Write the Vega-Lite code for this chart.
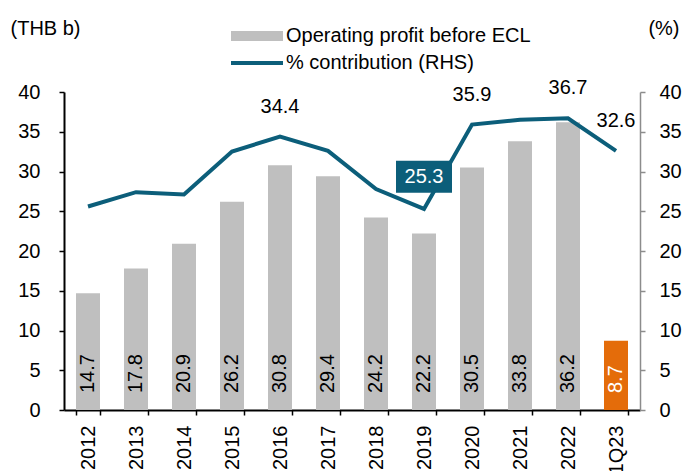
{
  "$schema": "https://vega.github.io/schema/vega-lite/v6.json",
  "width": 576,
  "height": 318,
  "autosize": {"type": "none"},
  "padding": {"left": 64, "top": 92, "right": 44, "bottom": 61},
  "background": "white",
  "config": {
    "font": "Liberation Sans",
    "view": {"stroke": null},
    "axis": {"labelFont": "Liberation Sans", "labelFontSize": 20, "labelColor": "black", "titleFont": "Liberation Sans", "titleFontSize": 20, "titleFontWeight": "normal", "titleColor": "black", "grid": false},
    "legend": {"labelFont": "Liberation Sans", "labelFontSize": 20, "labelColor": "black", "labelLimit": 400}
  },
  "data": {"values": [
    {"year": "2012", "profit": 14.7, "pct": 25.6},
    {"year": "2013", "profit": 17.8, "pct": 27.4},
    {"year": "2014", "profit": 20.9, "pct": 27.1},
    {"year": "2015", "profit": 26.2, "pct": 32.5},
    {"year": "2016", "profit": 30.8, "pct": 34.4},
    {"year": "2017", "profit": 29.4, "pct": 32.6},
    {"year": "2018", "profit": 24.2, "pct": 27.8},
    {"year": "2019", "profit": 22.2, "pct": 25.3},
    {"year": "2020", "profit": 30.5, "pct": 35.9},
    {"year": "2021", "profit": 33.8, "pct": 36.5},
    {"year": "2022", "profit": 36.2, "pct": 36.7},
    {"year": "1Q23", "profit": 8.7, "pct": 32.6}
  ]},
  "encoding": {
    "x": {
      "field": "year", "type": "ordinal", "sort": null,
      "scale": {"paddingInner": 0.5, "paddingOuter": 0.25},
      "axis": {"title": null, "labelAngle": -90, "labelAlign": "right", "labelBaseline": "middle", "labelPadding": 10, "domainColor": "black", "domainWidth": 2, "tickColor": "black", "tickWidth": 1.5, "tickSize": 5, "tickBand": "extent"}
    }
  },
  "layer": [
    {
      "encoding": {
        "y": {
          "field": "profit", "type": "quantitative",
          "scale": {"domain": [0, 40]},
          "axis": {"orient": "left", "values": [0, 5, 10, 15, 20, 25, 30, 35, 40], "title": "(THB b)", "titleAngle": 0, "titleAlign": "left", "titleBaseline": "middle", "titleX": -54, "titleY": -64, "domainColor": "black", "domainWidth": 2, "tickColor": "black", "tickWidth": 1.5, "tickSize": 5, "labelPadding": 19}
        }
      },
      "layer": [
        {
          "mark": {"type": "bar"},
          "encoding": {
            "color": {
              "condition": {"test": "datum.year === '1Q23'", "value": "#e46c0a"},
              "datum": "Operating profit before ECL",
              "type": "nominal",
              "scale": {"domain": ["Operating profit before ECL", "% contribution (RHS)"], "range": ["#bfbfbf", "#0c5e7a"]},
              "legend": {
                "orient": "none", "legendX": 162, "legendY": -66, "title": null, "direction": "vertical",
                "symbolSize": 100, "symbolOffset": 21, "labelOffset": 19, "rowPadding": 7, "labelLimit": 400,
                "encode": {"symbols": {"update": {
                  "shape": {"signal": "datum.value === '% contribution (RHS)' ? 'M-5.2,-0.4H5.2V0.4H-5.2Z' : 'M-5.2,-1H5.2V1H-5.2Z'"},
                  "fill": {"signal": "datum.value === '% contribution (RHS)' ? '#0c5e7a' : '#bfbfbf'"},
                  "stroke": {"value": "transparent"},
                  "strokeWidth": {"value": 0},
                  "opacity": {"value": 1},
                  "fillOpacity": {"value": 1}
                }}}
              }
            }
          }
        },
        {
          "mark": {"type": "text", "angle": 270, "align": "left", "baseline": "middle", "dx": 17, "fontSize": 20},
          "encoding": {
            "y": {"datum": 0, "type": "quantitative"},
            "text": {"field": "profit", "type": "quantitative", "format": ".1f"},
            "color": {"condition": {"test": "datum.year === '1Q23'", "value": "white"}, "value": "black"}
          }
        }
      ]
    },
    {
      "encoding": {
        "y": {
          "field": "pct", "type": "quantitative",
          "scale": {"domain": [0, 40]},
          "axis": {"orient": "right", "values": [0, 5, 10, 15, 20, 25, 30, 35, 40], "title": "(%)", "titleAngle": 0, "titleAlign": "right", "titleBaseline": "middle", "titleX": 39, "titleY": -64, "domainColor": "#8c8c8c", "domainWidth": 1.5, "tickColor": "#8c8c8c", "tickWidth": 1.5, "tickSize": 5, "labelPadding": 14}
        }
      },
      "layer": [
        {
          "mark": {"type": "line", "strokeWidth": 4, "strokeJoin": "miter"},
          "encoding": {
            "color": {"datum": "% contribution (RHS)", "type": "nominal"}
          }
        },
        {
          "transform": [{"filter": "indexof(['2016','2020','2022','1Q23'], datum.year) >= 0"}],
          "mark": {"type": "text", "dy": -30, "fontSize": 20, "color": "black", "baseline": "middle"},
          "encoding": {"text": {"field": "pct", "type": "quantitative", "format": ".1f"}}
        },
        {
          "transform": [{"filter": "datum.year === '2019'"}],
          "mark": {"type": "point", "shape": "M-1.75,-1H1.75V1H-1.75Z", "size": 1024, "filled": true, "color": "#0c5e7a", "opacity": 1, "strokeWidth": 0, "yOffset": -32}
        },
        {
          "transform": [{"filter": "datum.year === '2019'"}],
          "mark": {"type": "text", "yOffset": -32, "fontSize": 20, "color": "white", "baseline": "middle"},
          "encoding": {"text": {"field": "pct", "type": "quantitative", "format": ".1f"}}
        }
      ]
    }
  ],
  "resolve": {"scale": {"y": "independent"}}
}
